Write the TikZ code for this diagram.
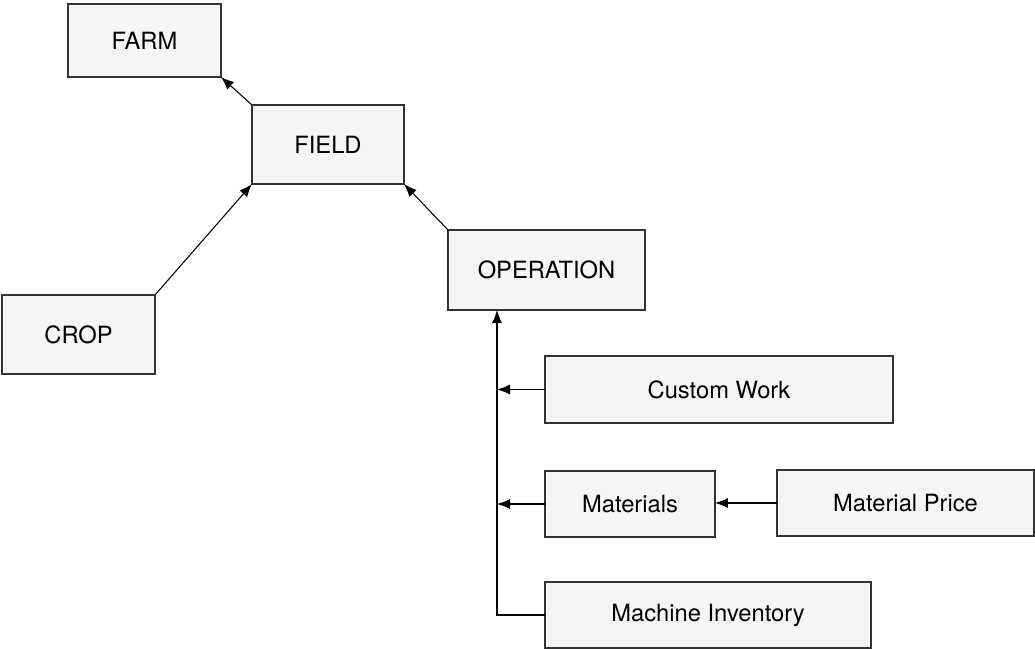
\documentclass[tikz,border=0pt]{standalone}
\usepackage{fontspec}
\setmainfont{TeX Gyre Heros}
\usetikzlibrary{arrows.meta}
\tikzset{
  entity/.style={draw=black!80,fill=black!4,line width=0.9pt,inner sep=0pt,outer sep=0pt,
    font=\fontsize{13.5}{16}\selectfont},
  link/.style={line width=0.6pt,-{Latex[length=2.6mm,width=2mm]}}
}
\begin{document}
\begin{tikzpicture}[x=0.02cm,y=-0.02cm]
\useasboundingbox (0,0) rectangle (1035,649);
\node[entity,minimum width=3.06cm,minimum height=1.46cm] (farm) at (144.5,40.5) {FARM};
\node[entity,minimum width=3.04cm,minimum height=1.58cm] (field) at (328,144.5) {FIELD};
\node[entity,minimum width=3.06cm,minimum height=1.58cm] (crop) at (78.5,334.5) {CROP};
\node[entity,minimum width=3.94cm,minimum height=1.6cm] (operation) at (546.5,270) {OPERATION};
\node[entity,minimum width=6.96cm,minimum height=1.34cm] (custom) at (719,389.5) {Custom Work};
\node[entity,minimum width=3.4cm,minimum height=1.32cm] (materials) at (630,504) {Materials};
\node[entity,minimum width=5.14cm,minimum height=1.32cm] (price) at (905.5,503) {Material Price};
\node[entity,minimum width=6.52cm,minimum height=1.32cm] (machine) at (708,615) {Machine Inventory};
\coordinate (trunk) at (497,310);

\draw[link] (field.north west) -- (farm.south east);
\draw[link] (crop.north east) -- (field.south west);
\draw[link] (operation.north west) -- (field.south east);
\draw[link] (machine.west) -- (machine.west -| trunk) -- (trunk);
\draw[link] (custom.west) -- (custom.west -| trunk);
\draw[link] (materials.west) -- (materials.west -| trunk);
\draw[link] (price.west) -- (materials.east |- price.west);
\end{tikzpicture}
\end{document}
